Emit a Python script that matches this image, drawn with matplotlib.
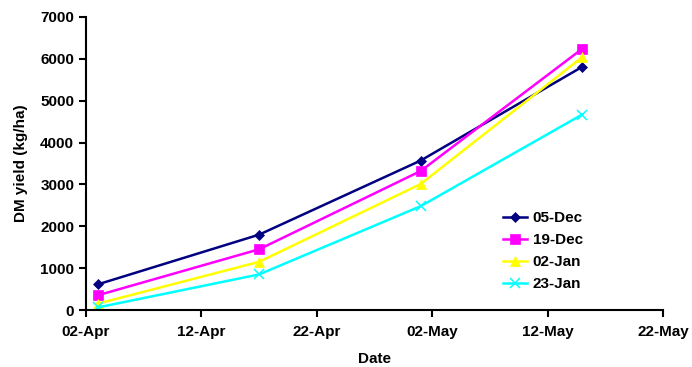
import matplotlib
matplotlib.use("Agg")
import matplotlib.pyplot as plt
import matplotlib.dates as mdates
import datetime as dt

plt.rcParams['font.family'] = ['Liberation Sans', 'DejaVu Sans']
plt.rcParams['font.weight'] = 'bold'

dates = ["2007-04-03", "2007-04-17", "2007-05-01", "2007-05-15"]
series_names = ["05-Dec", "19-Dec", "02-Jan", "23-Jan"]
dec05 = [610, 1800, 3570, 5810]
dec19 = [350, 1450, 3320, 6240]
jan02 = [150, 1150, 3010, 6040]
jan23 = [60, 850, 2480, 4670]
xticks = ["2007-04-02", "2007-04-12", "2007-04-22", "2007-05-02", "2007-05-12", "2007-05-22"]

colors = ["#000080", "#FF00FF", "#FFFF00", "#00FFFF"]
markers = ["D", "s", "^", "x"]
msizes = [5, 7, 7, 7]

x = [dt.datetime.strptime(d, "%Y-%m-%d") for d in dates]
xt = [dt.datetime.strptime(d, "%Y-%m-%d") for d in xticks]

fig = plt.figure(figsize=(6.92, 3.67), dpi=100)
ax = fig.add_axes([86/692, 57/367, (663-86)/692, (310-17)/367])

for name, vals, c, m, ms in zip(series_names, [dec05, dec19, jan02, jan23], colors, markers, msizes):
    ax.plot(x, vals, color=c, marker=m, markersize=ms, linewidth=1.8, label=name,
            markeredgewidth=1.1 if m == "x" else 0.5)

ax.set_xlim(xt[0], xt[-1])
ax.set_xticks(xt)
ax.xaxis.set_major_formatter(mdates.DateFormatter("%d-%b"))
ax.set_ylim(0, 7000)
ax.set_yticks(range(0, 7001, 1000))

for s in ["top", "right"]:
    ax.spines[s].set_visible(False)
for s in ["left", "bottom"]:
    ax.spines[s].set_linewidth(1.5)
ax.tick_params(axis='both', direction='out', length=5, width=1.5, labelsize=11)
ax.tick_params(axis='x', pad=6)
for lab in ax.get_xticklabels() + ax.get_yticklabels():
    lab.set_fontweight('bold')

ax.set_xlabel("Date", fontsize=11, fontweight='bold', labelpad=9)
ax.set_ylabel("DM yield (kg/ha)", fontsize=11, fontweight='bold', labelpad=9)

leg = ax.legend(loc='upper left', bbox_to_anchor=(0.712, 0.358), frameon=False,
                fontsize=11, handlelength=1.6, handletextpad=0.35, labelspacing=0.52,
                borderaxespad=0)
for t in leg.get_texts():
    t.set_fontweight('bold')

fig.savefig("out.png", dpi=100)
